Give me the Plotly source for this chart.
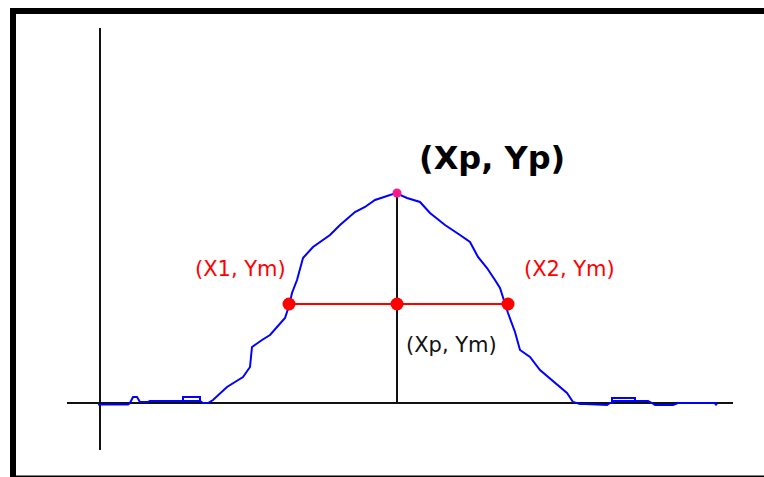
import plotly.graph_objects as go

# Measured signal trace (x along the baseline, y above the baseline)
x_signal = [-2, 10, 28, 30, 33, 37, 40, 48, 50, 83, 100, 100, 83, 83, 100, 103, 108,
            113, 120, 127, 135, 143, 150, 152, 162, 170, 185, 189, 192, 197, 203, 213,
            230, 240, 255, 265, 275, 285, 296, 307, 320, 330, 345, 360, 370, 378, 387,
            395, 400, 408, 415, 420, 430, 440, 455, 467, 473, 480, 485, 507, 510, 512,
            512, 535, 535, 512, 535, 548, 552, 555, 573, 578, 615, 616, 617]
y_signal = [-1.5, -1.5, -1.5, 0, 6, 6, 1, 1, 2, 2, 2, 6, 6, 2, 2, 0, 0,
            3, 10, 16, 21, 26, 36, 56, 63, 68, 85, 97, 110, 123, 145, 156,
            168, 178, 191, 196, 203, 206, 210, 205, 201, 190, 178, 168, 161, 146, 135,
            123, 115, 90, 71, 53, 46, 33, 20, 10, 1, -1, -1, -2, 0, 0,
            5, 5, 2, 2, 2, 2, 0, -2, -2, 0, 0, -2, 0]

# Characteristic points of the peak
Xp, Yp = 297, 210
X1, X2, Ym = 189, 408, 99

# Axis extents
x_axis_span = [-33, 633]
y_axis_span = [-47, 375]

labels = {
    "peak": "(Xp, Yp)",
    "left": "(X1, Ym)",
    "right": "(X2, Ym)",
    "mid": "(Xp, Ym)",
}

fig = go.Figure()

# Axes drawn as plain black lines
fig.add_trace(go.Scatter(x=x_axis_span, y=[0, 0], mode="lines",
                         line=dict(color="#111111", width=2), hoverinfo="skip"))
fig.add_trace(go.Scatter(x=[0, 0], y=y_axis_span, mode="lines",
                         line=dict(color="#111111", width=2), hoverinfo="skip"))

# Signal
fig.add_trace(go.Scatter(x=x_signal, y=y_signal, mode="lines",
                         line=dict(color="#0000ff", width=2), hoverinfo="skip"))

# Drop line from peak to baseline
fig.add_trace(go.Scatter(x=[Xp, Xp], y=[Yp, 0], mode="lines",
                         line=dict(color="#111111", width=2), hoverinfo="skip"))

# Half-height segment with its three points
fig.add_trace(go.Scatter(x=[X1, Xp, X2], y=[Ym, Ym, Ym], mode="lines+markers",
                         line=dict(color="#ff0000", width=2),
                         marker=dict(color="#ff0000", size=13), hoverinfo="skip"))

# Peak point
fig.add_trace(go.Scatter(x=[Xp], y=[Yp], mode="markers",
                         marker=dict(color="#ff1a8c", size=9), hoverinfo="skip"))

fig.add_annotation(x=392, y=245, text=labels["peak"], showarrow=False,
                   font=dict(family="DejaVu Sans", size=32, color="#000000"),
                   xanchor="center", yanchor="middle")
fig.add_annotation(x=140, y=134, text=labels["left"], showarrow=False,
                   font=dict(family="DejaVu Sans", size=21, color="#ff0000"),
                   xanchor="center", yanchor="middle")
fig.add_annotation(x=469, y=134, text=labels["right"], showarrow=False,
                   font=dict(family="DejaVu Sans", size=21, color="#ff0000"),
                   xanchor="center", yanchor="middle")
fig.add_annotation(x=351, y=58, text=labels["mid"], showarrow=False,
                   font=dict(family="DejaVu Sans", size=21, color="#111111"),
                   xanchor="center", yanchor="middle")
fig.layout.annotations[0].font.weight = "bold"

# Picture frame: heavy top and left edges, thin bottom edge
W, H = 764, 477
frame = [
    (10 / W, 1 - 14 / H, 1, 1 - 8 / H),
    (10 / W, 0, 16 / W, 1 - 8 / H),
    (10 / W, 0, 1, 1.5 / H),
]
for x0, y0, x1, y1 in frame:
    fig.add_shape(type="rect", xref="paper", yref="paper", x0=x0, y0=y0, x1=x1, y1=y1,
                  fillcolor="#000000", line=dict(width=0), layer="above")

fig.update_layout(
    width=W, height=H,
    margin=dict(l=0, r=0, t=0, b=0),
    paper_bgcolor="#ffffff", plot_bgcolor="#ffffff",
    showlegend=False,
    xaxis=dict(range=[-100, 664], visible=False, fixedrange=True),
    yaxis=dict(range=[-74, 403], visible=False, fixedrange=True),
)

fig.write_html("out.html", config={"displayModeBar": False})
